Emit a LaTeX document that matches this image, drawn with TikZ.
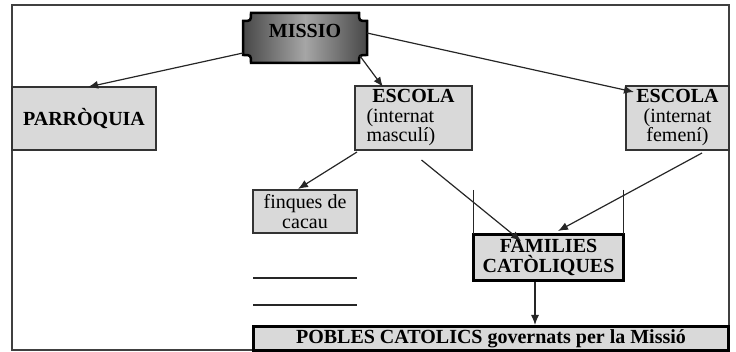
\documentclass[tikz,border=0pt]{standalone}
\usepackage{fontspec}
\setmainfont{Liberation Serif}
\usetikzlibrary{arrows.meta,calc}
\begin{document}
\begin{tikzpicture}[x=1pt,y=-1pt,
  txt/.style={font=\fontsize{20}{19.5}\selectfont},
  bold/.style={font=\fontsize{20}{19.5}\selectfont\bfseries},
  gbox/.style={draw=black!80, line width=1.3pt, fill=black!15, inner sep=0pt, outer sep=0pt, anchor=north west},
  tbox/.style={draw=black, line width=3pt, fill=black!15, inner sep=0pt, outer sep=0pt, anchor=north west},
  arr/.style={draw=black!85, line width=1.2pt, -{Latex[length=10pt,width=8pt]}},
  plainline/.style={draw=black!85, line width=1.2pt},
  frameline/.style={draw=black!75, line width=1.8pt},
]
\useasboundingbox (0,0) rectangle (736,352);

% frame
\coordinate (ftl) at (12,5);
\coordinate (ftr) at (729,5);
\coordinate (fbl) at (12,350);
\coordinate (fbm) at (252,350);
\coordinate (fbr) at (729,325);
\draw[frameline] (fbm) -- (fbl) -- (ftl) -- (ftr) -- (fbr);

% boxes
\node[gbox, bold, minimum width=144pt, minimum height=63pt] (parroquia) at (12,87) {PARRÒQUIA};
\node[gbox, txt, minimum width=117pt, minimum height=64pt, text width=94pt, align=left] (escm) at (355,86)
  {\makebox[94pt]{\bfseries ESCOLA}\\(internat\\masculí)};
\node[gbox, txt, minimum width=103pt, minimum height=64pt, align=center] (escf) at (626,86)
  {\textbf{ESCOLA}\\(internat\\femení)};
\node[gbox, txt, minimum width=104pt, minimum height=43pt, align=center] (finq) at (253,190)
  {finques de\\cacau};
\node[tbox, bold, minimum width=150pt, minimum height=46pt, align=center] (fam) at (473.5,234.5)
  {FAMILIES\\CATÒLIQUES};
\node[tbox, bold, minimum width=475pt, minimum height=24pt] (pobles) at (253.5,326.5)
  {POBLES CATOLICS governats per la Missió};

% MISSIO plaque
\node[minimum width=124pt, minimum height=50pt, inner sep=0pt, outer sep=0pt, anchor=north west] (missio) at (243,13) {};
\path[draw=black, line width=2.5pt, left color=black!72, right color=black!72, middle color=black!35]
  ($(missio.north west)+(8,0)$) -- ($(missio.north east)+(-8,0)$)
  .. controls ($(missio.north east)+(-8,8)$) .. ($(missio.north east)+(0,8)$)
  -- ($(missio.south east)+(0,-8)$)
  .. controls ($(missio.south east)+(-8,-8)$) .. ($(missio.south east)+(-8,0)$)
  -- ($(missio.south west)+(8,0)$)
  .. controls ($(missio.south west)+(8,-8)$) .. ($(missio.south west)+(0,-8)$)
  -- ($(missio.north west)+(0,8)$)
  .. controls ($(missio.north west)+(8,8)$) .. ($(missio.north west)+(8,0)$) -- cycle;
\node[bold, anchor=base, inner sep=0pt] (missiotext) at (missio.center) {MISSIO};

% free lines
\coordinate (vl1) at (473.5,190);
\coordinate (vl2) at (623.5,190);
\draw[plainline] (vl1) -- (fam.north west);
\draw[plainline] (vl2) -- (fam.north east);
\coordinate (h1a) at (253,278);
\coordinate (h1b) at (357,278);
\coordinate (h2a) at (253,305);
\coordinate (h2b) at (357,305);
\draw[plainline] (h1a) -- (h1b);
\draw[plainline] (h2a) -- (h2b);

% arrows
\draw[arr] ($(missio.west)+(0,15)$) -- ($(parroquia.north)+(4,0)$);
\draw[arr] ($(missio.south east)+(-7,-7)$) -- ($(escm.north west)+(28,1)$);
\draw[arr] ($(missio.east)+(0,-5)$) -- ($(escf.north west)+(8,6)$);
\draw[arr] ($(escm.south west)+(2,2)$) -- ($(finq.north)+(-7,-1)$);
\draw[arr] ($(escm.south)+(8,10)$) -- ($(fam.north west)+(47.5,6.5)$);
\draw[arr] ($(escf.south)+(24.5,3)$) -- ($(fam.north east)+(-65.5,-3.5)$);
\draw[arr] ($(fam.south)+(-13.5,1.5)$) -- ($(pobles.north)+(44,-1.5)$);
\end{tikzpicture}
\end{document}
